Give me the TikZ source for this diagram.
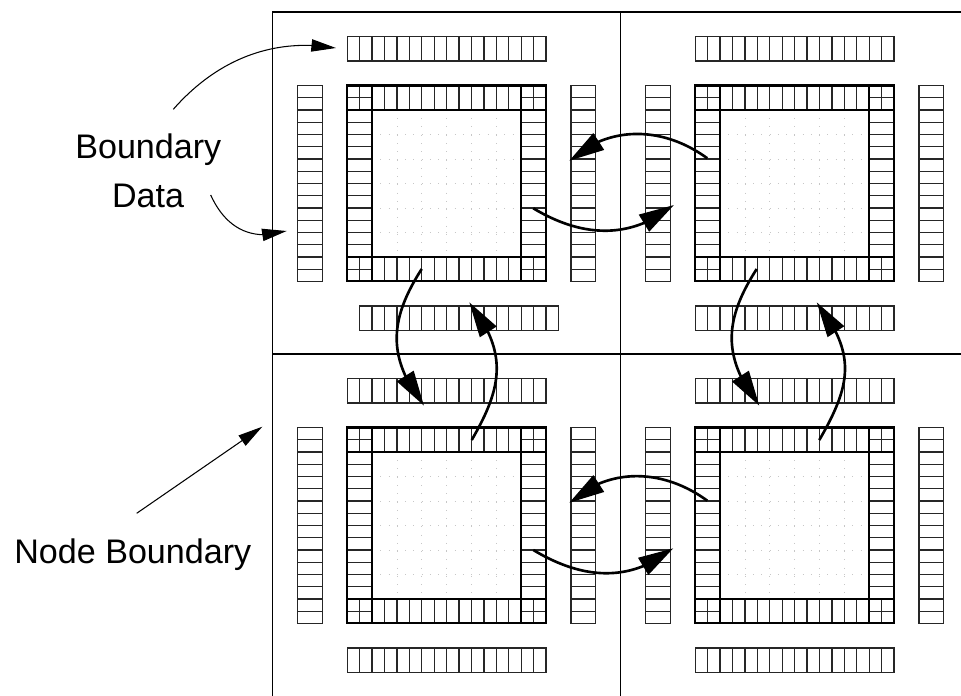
\documentclass[tikz,border=0pt]{standalone}
\usepackage{fontspec}
\setmainfont{Liberation Sans}
\usetikzlibrary{arrows.meta,bending}
\tikzset{
  cellline/.style={line width=0.75pt, draw=black!85},
  blockline/.style={line width=1.2pt, draw=black},
  frameline/.style={line width=0.8pt, draw=black},
  dotline/.style={line width=0.5pt, draw=black!22, dash pattern=on 0.5pt off 4.2pt},
  bigarrow/.style={line width=1.5pt, -{Triangle[length=20pt,width=11pt,flex]}},
  thinarrow/.style={line width=0.6pt, -{Triangle[length=14pt,width=7pt,flex]}},
  annot/.style={font=\fontsize{19.4}{24}\selectfont, inner sep=0pt, anchor=base},
}
\newcommand\drawquadrant[3]{%
  \begin{scope}[shift={(#1,#2)}, x=0.2486cm, y=-0.245cm]
    % top strip
    \draw[cellline] (6,2) rectangle (22,4);
    \foreach \i in {7,...,21} \draw[cellline] (\i,2) -- (\i,4);
    % bottom strip
    \draw[cellline] ({6+#3},24) rectangle ({22+#3},26);
    \foreach \i in {7,...,21} \draw[cellline] ({\i+#3},24) -- ({\i+#3},26);
    % left strip
    \draw[cellline] (2,6) rectangle (4,22);
    \foreach \j in {7,...,21} \draw[cellline] (2,\j) -- (4,\j);
    % right strip
    \draw[cellline] (24,6) rectangle (26,22);
    \foreach \j in {7,...,21} \draw[cellline] (24,\j) -- (26,\j);
    % interior dotted grid
    \foreach \k in {10,12,...,18} {
      \draw[dotline] (\k,8) -- (\k,20);
      \draw[dotline] (8,\k) -- (20,\k);
    }
    % block ring cells
    \foreach \i in {7,...,21} {
      \draw[cellline] (\i,6) -- (\i,8);
      \draw[cellline] (\i,20) -- (\i,22);
    }
    \foreach \j in {7,...,21} {
      \draw[cellline] (6,\j) -- (8,\j);
      \draw[cellline] (20,\j) -- (22,\j);
    }
    % block thick lines
    \draw[blockline] (6,6) rectangle (22,22);
    \draw[blockline] (8,6) -- (8,22);
    \draw[blockline] (20,6) -- (20,22);
    \draw[blockline] (6,8) -- (22,8);
    \draw[blockline] (6,20) -- (22,20);
  \end{scope}%
}
\begin{document}
\begin{tikzpicture}[x=0.02cm, y=-0.02cm]
  \useasboundingbox (0,0) rectangle (961,696);
  % frame
  \draw[frameline] (272.7,696) -- (272.7,12) -- (961,12);
  \draw[frameline] (620.7,12) -- (620.7,696);
  \draw[frameline] (272.7,354) -- (961,354);
  % quadrants
  \drawquadrant{272.7}{12}{1}
  \drawquadrant{620.7}{12}{0}
  \drawquadrant{272.7}{354}{0}
  \drawquadrant{620.7}{354}{0}
  % coordinates for connectors
  \coordinate (c1s) at (707.3,158.3); \coordinate (c1e) at (569.3,160.7);
  \coordinate (d1s) at (533.3,208.3); \coordinate (d1e) at (674,205);
  \coordinate (c2s) at (707.3,500.7); \coordinate (c2e) at (569.3,502.7);
  \coordinate (d2s) at (533.3,550);   \coordinate (d2e) at (673.3,548.3);
  \coordinate (a1s) at (421.7,269);   \coordinate (a1e) at (424,405.7);
  \coordinate (b1s) at (471.7,440);   \coordinate (b1e) at (469.3,302.3);
  \coordinate (a2s) at (756.7,269);   \coordinate (a2e) at (759.3,405.7);
  \coordinate (b2s) at (819.3,440);   \coordinate (b2e) at (816.7,302.3);
  \coordinate (t1s) at (173.3,109.3); \coordinate (t1e) at (336,48);
  \coordinate (t2s) at (210.7,195);   \coordinate (t2e) at (286.7,231);
  \coordinate (t3s) at (136.7,513.3); \coordinate (t3e) at (262.3,426.7);
  % thick exchange arrows
  \draw[bigarrow] (c1s) .. controls (663.6,126.4) and (609.3,124.5) .. (c1e);
  \draw[bigarrow] (d1s) .. controls (581.8,237.4) and (629.9,240.1) .. (d1e);
  \draw[bigarrow] (c2s) .. controls (663.6,468.8) and (609.3,466.5) .. (c2e);
  \draw[bigarrow] (d2s) .. controls (581.8,579.1) and (629.2,583.4) .. (d2e);
  \draw[bigarrow] (a1s) .. controls (389,319.9) and (387,357.8) .. (a1e);
  \draw[bigarrow] (b1s) .. controls (503.2,385.9) and (507.7,352) .. (b1e);
  \draw[bigarrow] (a2s) .. controls (723.8,320.2) and (722.1,357.5) .. (a2e);
  \draw[bigarrow] (b2s) .. controls (851.7,384.2) and (856.3,353.6) .. (b2e);
  % annotation arrows
  \draw[thinarrow] (t1s) .. controls (219.5,56.8) and (276.6,37.8) .. (t1e);
  \draw[thinarrow] (t2s) .. controls (225.1,226.9) and (250.6,242.4) .. (t2e);
  \draw[thinarrow] (t3s) -- (t3e);
  % labels
  \node[annot] (bd1) at (148.3,158.3) {Boundary};
  \node[annot] (bd2) at (148,208) {Data};
  \node[annot] (nb) at (132.8,563.3) {Node Boundary};
\end{tikzpicture}
\end{document}
